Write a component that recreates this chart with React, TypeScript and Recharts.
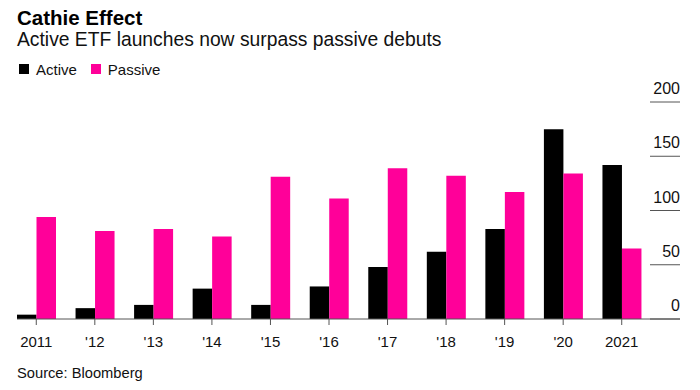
import { Bar, BarChart, XAxis, YAxis } from 'recharts';

// ETF launches per year
const YEARS = ['2011', '2012', '2013', '2014', '2015', '2016', '2017', '2018', '2019', '2020', '2021'];
const TICK_LABELS = ['2011', "'12", "'13", "'14", "'15", "'16", "'17", "'18", "'19", "'20", '2021'];
const ACTIVE = [4, 10, 13, 28, 13, 30, 48, 62, 83, 175, 142];
const PASSIVE = [94, 81, 83, 76, 131, 111, 139, 132, 117, 134, 65];
const Y_TICKS = [0, 50, 100, 150, 200];

const ACTIVE_COLOR = '#000000';
const PASSIVE_COLOR = '#ff0099';
const FONT = '"Liberation Sans", Arial, Helvetica, sans-serif';

const data = YEARS.map((year, i) => ({
  year,
  label: TICK_LABELS[i],
  active: ACTIVE[i],
  passive: PASSIVE[i],
}));

// Bloomberg-style right axis: short rule with the value sitting above it.
function RightTick({ x, y, payload }: { x: number; y: number; payload: { value: number } }) {
  return (
    <g>
      <line x1={x - 30} x2={x} y1={y} y2={y} stroke="#555" strokeWidth={1} />
      <text x={x} y={y - 8} textAnchor="end" fontSize={16} fill="#111" fontFamily={FONT}>
        {payload.value}
      </text>
    </g>
  );
}

function LegendItem({ color, label }: { color: string; label: string }) {
  return (
    <span style={{ display: 'inline-flex', alignItems: 'center', marginRight: 14 }}>
      <span style={{ width: 10, height: 10, background: color, marginRight: 7, display: 'inline-block' }} />
      {label}
    </span>
  );
}

export default function App() {
  return (
    <div
      style={{
        position: 'relative',
        width: 700,
        height: 390,
        margin: '-8px 0 0 -8px',
        fontFamily: FONT,
        color: '#000',
        background: '#fff',
        overflow: 'hidden',
      }}
    >
      <div style={{ position: 'absolute', left: 17, top: 7.6, fontSize: 20.5, fontWeight: 700, lineHeight: 1 }}>
        Cathie Effect
      </div>
      <div style={{ position: 'absolute', left: 17, top: 30.4, fontSize: 19.3, lineHeight: 1, color: '#111' }}>
        Active ETF launches now surpass passive debuts
      </div>
      <div style={{ position: 'absolute', left: 19, top: 61.5, fontSize: 15, lineHeight: 1, display: 'flex', color: '#111' }}>
        <LegendItem color={ACTIVE_COLOR} label="Active" />
        <LegendItem color={PASSIVE_COLOR} label="Passive" />
      </div>

      <div style={{ position: 'absolute', left: 0, top: 0 }}>
        <BarChart
          width={700}
          height={390}
          data={data}
          margin={{ top: 102, right: 19, bottom: 41, left: 17 }}
          barGap={0}
          barSize={19.5}
        >
          <XAxis
            dataKey="label"
            height={30}
            padding={{ left: -10, right: 29 }}
            axisLine={{ stroke: '#555' }}
            tickLine={{ stroke: '#555' }}
            tickSize={6}
            tickMargin={11}
            interval={0}
            tick={{ fontSize: 15, fill: '#111', fontFamily: FONT }}
          />
          <YAxis
            orientation="right"
            width={1}
            domain={[0, 200]}
            ticks={Y_TICKS}
            axisLine={false}
            tickLine={false}
            tickSize={0}
            tickMargin={0}
            tick={(props: any) => <RightTick {...props} />}
          />
          <Bar dataKey="active" name="Active" fill={ACTIVE_COLOR} isAnimationActive={false} />
          <Bar dataKey="passive" name="Passive" fill={PASSIVE_COLOR} isAnimationActive={false} />
        </BarChart>
      </div>

      <div style={{ position: 'absolute', left: 17, top: 366, fontSize: 14.7, lineHeight: 1, color: '#111' }}>
        Source: Bloomberg
      </div>
    </div>
  );
}
